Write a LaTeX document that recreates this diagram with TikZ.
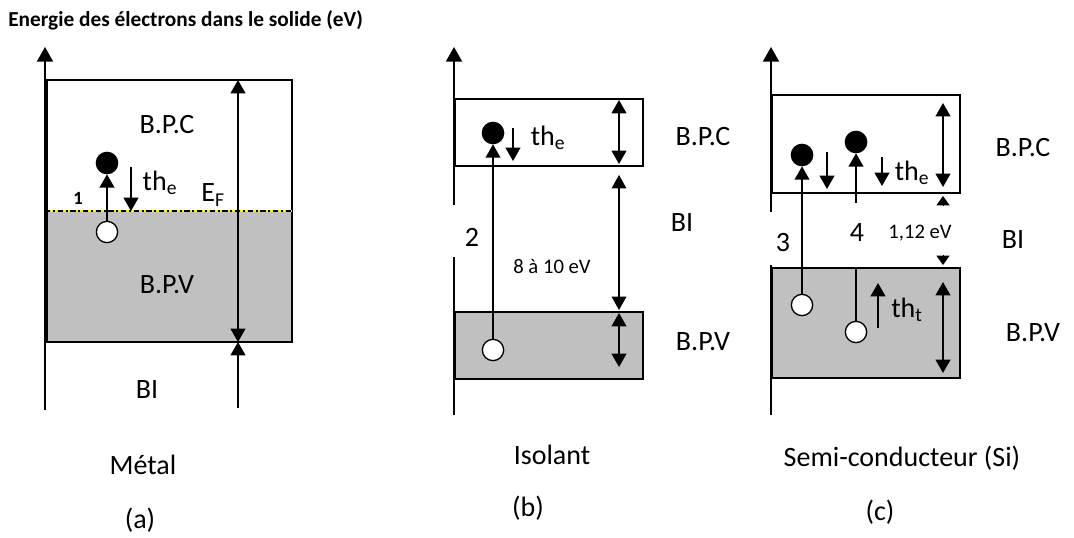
\documentclass[tikz,border=0pt]{standalone}
\usepackage{fontspec}
\setmainfont{Carlito}
\usetikzlibrary{arrows.meta, positioning, calc}
\definecolor{bandgray}{HTML}{C0C0C0}

\tikzset{
  band/.style={draw, line width=1.9pt},
  axis/.style={line width=1.5pt, -{Triangle[length=11pt,width=12pt]}},
  dbl/.style={line width=1.5pt, {Triangle[length=10pt,width=11pt]}-{Triangle[length=10pt,width=11pt]}},
  thindbl/.style={line width=0.8pt, {Triangle[length=10pt,width=11pt]}-{Triangle[length=10pt,width=11pt]}},
  jump/.style={line width=1.5pt, -{Triangle[length=10pt,width=11pt]}},
  gaptip/.style={line width=0pt, -{Triangle[length=7pt,width=10pt]}},
  electron/.style={circle, fill=black, draw, line width=1pt, minimum size=16pt, inner sep=0pt},
  hole/.style={circle, fill=white, draw, line width=1pt, minimum size=16pt, inner sep=0pt},
  lbl/.style={font=\fontsize{21}{25}\selectfont, inner sep=0pt},
  smalllbl/.style={font=\fontsize{15.5}{18}\selectfont, inner sep=0pt},
}

\begin{document}
\begin{tikzpicture}[x=0.75pt, y=-0.75pt]
  \useasboundingbox (0,0) rectangle (1074,538);

  \node[anchor=west, inner sep=0pt, font=\fontsize{16}{19}\selectfont\bfseries] (title) at (8,20)
    {Energie des électrons dans le solide (eV)};

  % (a) metal
  \fill[bandgray] (47,211) rectangle (292,342);
  \draw[band] (47,80) rectangle (292,342);
  \draw[line width=1.5pt, yellow] (45,211) -- (292,211);
  \draw[line width=1.5pt, dash pattern=on 4pt off 2pt on 1.5pt off 2pt] (45,211) -- (292,211);
  \draw[axis] (45,410) -- (45,47);
  \coordinate (topA) at (238,80);
  \coordinate (botA) at (238,342);
  \coordinate (lowA) at (238,408);
  \draw[dbl] (topA) -- (botA);
  \draw[jump] (lowA) -- (botA);
  \node[electron] (e1) at (107,163) {};
  \node[hole] (h1) at (107,232) {};
  \draw[jump] (h1.north) -- (e1.south);
  \coordinate (thA0) at (131,167);
  \coordinate (thA1) at (131,211);
  \draw[jump] (thA0) -- (thA1);
  \node[lbl] (bpcA) at (167,125) {B.P.C};
  \node[lbl] (bpvA) at (167,285) {B.P.V};
  \node[lbl] (biA) at (147,390) {BI};
  \node[lbl] (efA) at (213,195) {E\textsubscript{F}};
  \node[lbl] (theA) at (160,183) {th\textsubscript{e}};
  \node[inner sep=0pt, font=\fontsize{14}{16}\selectfont\bfseries] (n1) at (78,198) {1};
  \node[lbl] (metal) at (143,465) {Métal};
  \node[lbl] (capA) at (140,520) {(a)};

  % (b) isolant
  \draw[band] (455,99) rectangle (643,166);
  \draw[band, fill=bandgray] (455,312) rectangle (643,379);
  \draw[line width=1.5pt] (454,415) -- (454,257);
  \draw[axis] (454,205) -- (454,47);
  \draw[dbl] (619,100) -- (619,164);
  \draw[thindbl] (619,175) -- (619,310);
  \draw[dbl] (619,313) -- (619,367);
  \node[electron] (e2) at (493,133) {};
  \node[hole] (h2) at (493,350) {};
  \draw[line width=1.2pt, -{Triangle[length=10pt,width=11pt]}] (h2.north) -- (e2.south);
  \coordinate (thB0) at (513,128);
  \coordinate (thB1) at (513,161);
  \draw[jump] (thB0) -- (thB1);
  \node[lbl] (theB) at (548,138) {th\textsubscript{e}};
  \node[lbl] (n2) at (472,237) {2};
  \node[smalllbl] (gapB) at (552,267) {8 à 10 eV};
  \node[lbl] (bpcB) at (703,137) {B.P.C};
  \node[lbl] (biB) at (682,223) {BI};
  \node[lbl] (bpvB) at (703,342) {B.P.V};
  \node[lbl] (isolant) at (552,455) {Isolant};
  \node[lbl] (capB) at (528,508) {(b)};

  % (c) semi-conducteur
  \draw[band] (772,95) rectangle (960,193);
  \draw[band, fill=bandgray] (772,268) rectangle (960,378);
  \draw[line width=1.5pt] (771,415) -- (771,265);
  \draw[axis] (771,212) -- (771,47);
  \draw[dbl] (943,103) -- (943,187);
  \draw[dbl] (943,282) -- (943,373);
  \coordinate (gT0) at (943,206);
  \coordinate (gT1) at (943,196);
  \coordinate (gB0) at (943,256);
  \coordinate (gB1) at (943,265);
  \draw[gaptip] (gT0) -- (gT1);
  \draw[gaptip] (gB0) -- (gB1);
  \node[electron] (e3) at (802,155) {};
  \node[hole] (h3) at (802,305) {};
  \draw[line width=1.2pt, -{Triangle[length=10pt,width=11pt]}] (h3.north) -- (e3.south);
  \node[electron] (e4) at (856,142) {};
  \node[hole] (h4) at (856,332) {};
  \coordinate (j4a) at (856,268);
  \coordinate (j4b) at (856,203);
  \draw[line width=1.5pt] (h4.north) -- (j4a);
  \draw[jump] (j4b) -- (e4.south);
  \coordinate (thC0) at (827,152);
  \coordinate (thC1) at (827,189);
  \draw[jump] (thC0) -- (thC1);
  \coordinate (thD0) at (882,157);
  \coordinate (thD1) at (882,186);
  \draw[jump] (thD0) -- (thD1);
  \coordinate (thT0) at (878,328);
  \coordinate (thT1) at (878,283);
  \draw[jump] (thT0) -- (thT1);
  \node[lbl] (theC) at (912,173) {th\textsubscript{e}};
  \node[lbl] (thtC) at (907,310) {th\textsubscript{t}};
  \node[lbl] (n3) at (783,243) {3};
  \node[lbl] (n4) at (857,233) {4};
  \node[smalllbl] (gapC) at (920,233) {1,12 eV};
  \node[lbl] (bpcC) at (1023,148) {B.P.C};
  \node[lbl] (biC) at (1013,240) {BI};
  \node[lbl] (bpvC) at (1033,333) {B.P.V};
  \node[lbl] (semi) at (902,458) {Semi-conducteur (Si)};
  \node[lbl] (capC) at (880,512) {(c)};
\end{tikzpicture}
\end{document}
